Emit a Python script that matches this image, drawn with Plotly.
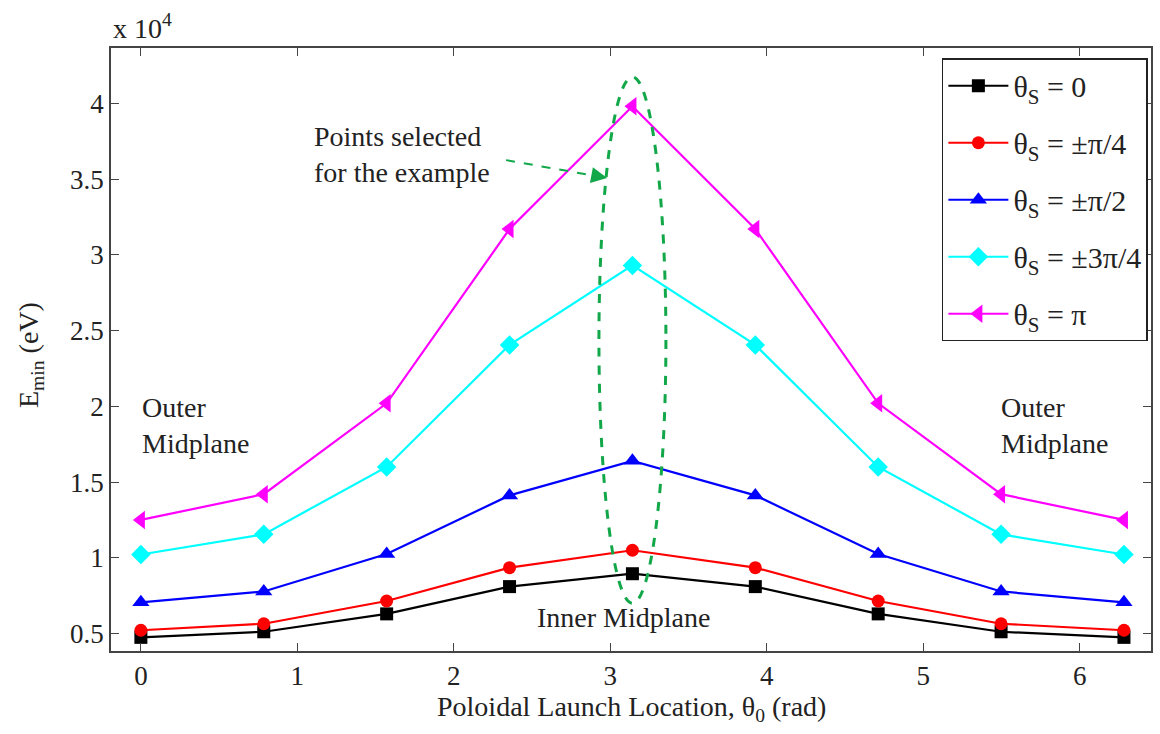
import numpy as np
import plotly.graph_objects as go

# Poloidal launch location (rad): 0 .. 2*pi in steps of pi/4
theta0 = [0, np.pi/4, np.pi/2, 3*np.pi/4, np.pi, 5*np.pi/4, 3*np.pi/2, 7*np.pi/4, 2*np.pi]

# E_min in units of 1e4 eV
e_0 = [0.475, 0.512, 0.630, 0.810, 0.895, 0.810, 0.630, 0.512, 0.475]
e_pi4 = [0.522, 0.565, 0.715, 0.935, 1.050, 0.935, 0.715, 0.565, 0.522]
e_pi2 = [0.706, 0.778, 1.025, 1.412, 1.640, 1.412, 1.025, 0.778, 0.706]
e_3pi4 = [1.022, 1.155, 1.600, 2.405, 2.930, 2.405, 1.600, 1.155, 1.022]
e_pi = [1.250, 1.420, 2.020, 3.170, 3.980, 3.170, 2.020, 1.420, 1.250]

series_names = ["θ<sub>S</sub> = 0", "θ<sub>S</sub> = ±π/4", "θ<sub>S</sub> = ±π/2",
                "θ<sub>S</sub> = ±3π/4", "θ<sub>S</sub> = π"]
series_vals = [e_0, e_pi4, e_pi2, e_3pi4, e_pi]
colors = ["#000000", "#ff0000", "#0000ff", "#00ffff", "#ff00ff"]
symbols = ["square", "circle", "triangle-up", "diamond", "triangle-left"]
sizes = [13, 13, 15, 15, 16]

x_ticks = [0, 1, 2, 3, 4, 5, 6]
y_ticks = [0.5, 1, 1.5, 2, 2.5, 3, 3.5, 4]
y_ticktext = ["0.5", "1", "1.5", "2", "2.5", "3", "3.5", "4"]

FONT = "Liberation Serif, Times New Roman, serif"
TXT = "#222222"
GREEN = "#12a84a"

fig = go.Figure()
for i, (name, vals, c, s, sz) in enumerate(zip(series_names, series_vals, colors, symbols, sizes)):
    fig.add_trace(go.Scatter(
        x=theta0, y=vals, name=name, mode="lines+markers", legendgroup=f"g{i}",
        line=dict(color=c, width=2.2),
        marker=dict(symbol=s, size=sz, color=c, line=dict(width=0)),
    ))

# selection ellipse around theta0 = pi
fig.add_shape(type="circle", xref="x", yref="y",
              x0=np.pi - 0.214, x1=np.pi + 0.214, y0=0.70, y1=4.174,
              line=dict(color=GREEN, width=3, dash="dash"))

# dashed arrow shaft
fig.add_shape(type="line", xref="x", yref="y",
              x0=2.334, y0=3.625, x1=2.93, y1=3.516,
              line=dict(color=GREEN, width=2, dash="dash"))
# arrow head
fig.add_annotation(x=2.98, y=3.507, xref="x", yref="y",
                   ax=-16, ay=-3, axref="pixel", ayref="pixel",
                   showarrow=True, arrowhead=2, arrowsize=1.6, arrowwidth=2,
                   arrowcolor=GREEN, text="")

ann_font = dict(family=FONT, size=28, color=TXT)
fig.add_annotation(x=1.667, y=3.66, xref="x", yref="y", text="Points selected<br>for the example",
                   showarrow=False, align="left", font=ann_font, xanchor="center", yanchor="middle")
fig.add_annotation(x=-0.005, y=1.875, xref="x", yref="y", text="Outer<br>Midplane",
                   showarrow=False, align="left", font=ann_font, xanchor="left", yanchor="middle")
fig.add_annotation(x=5.487, y=1.875, xref="x", yref="y", text="Outer<br>Midplane",
                   showarrow=False, align="left", font=ann_font, xanchor="left", yanchor="middle")
fig.add_annotation(x=3.082, y=0.607, xref="x", yref="y", text="Inner Midplane",
                   showarrow=False, font=ann_font, xanchor="center", yanchor="middle")

# axis titles and exponent
fig.add_annotation(x=-0.0774, y=0.49, xref="paper", yref="paper", text="E<sub>min</sub> (eV)",
                   textangle=-90, showarrow=False, font=ann_font, xanchor="center", yanchor="middle")
fig.add_annotation(x=0.5, y=-0.095, xref="paper", yref="paper",
                   text="Poloidal Launch Location, θ<sub>0</sub> (rad)",
                   showarrow=False, font=ann_font, xanchor="center", yanchor="middle")
fig.add_annotation(x=0.0, y=1.0, xref="paper", yref="paper", text="x 10<sup>4</sup>",
                   showarrow=False, font=ann_font, xanchor="left", yanchor="bottom", yshift=2)

axis_common = dict(showline=True, linecolor="#444444", linewidth=1.5, mirror="ticks",
                   ticks="inside", ticklen=8, tickwidth=1.2, tickcolor="#444444",
                   showgrid=False, zeroline=False,
                   tickfont=dict(family=FONT, size=27, color=TXT))

fig.update_layout(
    width=1160, height=734,
    margin=dict(l=111, r=7, t=48, b=83),
    paper_bgcolor="white", plot_bgcolor="white",
    font=dict(family=FONT, size=27, color=TXT),
    xaxis=dict(range=[-0.191, 6.456], tickvals=x_ticks, **axis_common),
    yaxis=dict(range=[0.385, 4.365], tickvals=y_ticks, ticktext=y_ticktext, **axis_common),
    legend=dict(x=0.997, y=0.983, xanchor="right", yanchor="top",
                bgcolor="white", bordercolor="#222222", borderwidth=1.5,
                font=dict(family=FONT, size=30, color=TXT), itemwidth=60,
                tracegroupgap=15),
    showlegend=True,
)

fig.write_html("out.html")
